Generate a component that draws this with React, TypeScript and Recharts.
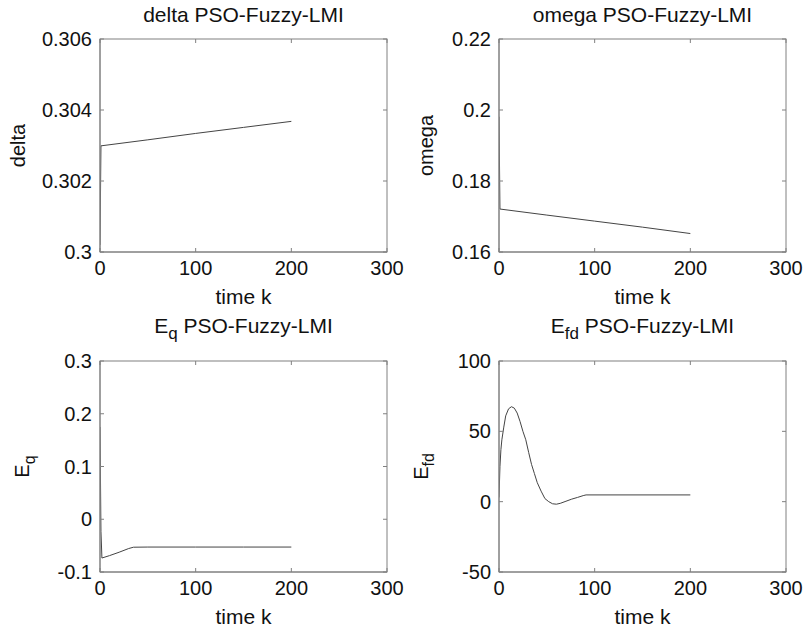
import React from 'react';
import { LineChart, Line, XAxis, YAxis } from 'recharts';

// ---------- data ----------
const X_TICKS = [0, 100, 200, 300];

const deltaK = [0, 1, 50, 100, 150, 200];
const deltaValues = [0.3002, 0.30299, 0.30316, 0.30334, 0.30351, 0.30368];
const deltaTicks = [0.3, 0.302, 0.304, 0.306];

const omegaK = [0, 1, 50, 100, 150, 200];
const omegaValues = [0.1981, 0.1721, 0.1704, 0.1687, 0.167, 0.1652];
const omegaTicks = [0.16, 0.18, 0.2, 0.22];

const eqK = [0, 1, 2, 10, 20, 30, 35, 50, 100, 150, 200];
const eqValues = [0.175, -0.023, -0.0735, -0.0689, -0.0625, -0.0555, -0.053, -0.0527, -0.0527, -0.0527, -0.0527];
const eqTicks = [-0.1, 0, 0.1, 0.2, 0.3];

const efdK = [0, 1, 2, 3, 5, 7, 10, 13, 16, 19, 22, 25, 28, 31, 34, 37, 40, 44, 48, 52, 56, 60, 64, 70, 76, 82, 88, 91, 200];
const efdValues = [3, 25, 37, 44, 53, 61, 66, 67.5, 66.5, 63, 57, 50, 44, 35, 26.5, 20, 13.5, 7.5, 2.2, 0, -1.5, -1.8, -1.2, 0.3, 1.8, 3, 4.3, 4.8, 4.8];
const efdTicks = [-50, 0, 50, 100];

const build = (ks: number[], vs: number[]) => ks.map((k, i) => ({ k, v: vs[i] }));

// ---------- style ----------
const FONT = 'Liberation Sans, Arial, Helvetica, sans-serif';
const FS = 20;
const FS_T = 21;
const TEXT = '#111';
const BOX = '#808080';
const LINE = '#444';
const fmt = (v: number) => String(Number(v.toFixed(6)));

const YW = 60; // left axis width
const XH = 30; // bottom axis height

type Plot = { x: number; y: number; w: number; h: number };

type PanelProps = {
  left: number; top: number; width: number; height: number;
  plot: Plot;
  data: { k: number; v: number }[];
  yTicks: number[];
  title: React.ReactNode;
  titleGap: number;
  ylabel: React.ReactNode;
  ylabelGap: number;
};

function Panel(p: PanelProps) {
  const px = p.plot.x - p.left;
  const py = p.plot.y - p.top;
  const pw = p.plot.w;
  const ph = p.plot.h;
  const margin = {
    left: px - YW,
    top: py,
    right: p.width - (px + pw),
    bottom: p.height - (py + ph) - XH,
  };
  const domain: [number, number] = [p.yTicks[0], p.yTicks[p.yTicks.length - 1]];

  // bottom ticks (also mirrored on the top edge, inward)
  const bottomTick = (t: any) => (
    <g>
      <line x1={t.x} x2={t.x} y1={py + ph} y2={py + ph - 4} stroke={BOX} />
      <line x1={t.x} x2={t.x} y1={py} y2={py + 4} stroke={BOX} />
      <text x={t.x} y={py + ph + 23} textAnchor="middle" fontFamily={FONT} fontSize={FS} fill={TEXT}>
        {fmt(t.payload.value)}
      </text>
    </g>
  );
  // left ticks (also mirrored on the right edge, inward)
  const leftTick = (t: any) => (
    <g>
      <line x1={px} x2={px + 4} y1={t.y} y2={t.y} stroke={BOX} />
      <line x1={px + pw} x2={px + pw - 4} y1={t.y} y2={t.y} stroke={BOX} />
      <text x={px - 8} y={t.y + 7} textAnchor="end" fontFamily={FONT} fontSize={FS} fill={TEXT}>
        {fmt(t.payload.value)}
      </text>
    </g>
  );

  const cx = px + pw / 2;
  const cy = py + ph / 2;
  const lx = px - p.ylabelGap;

  const xLabel = () => (
    <text x={cx} y={py + ph + 52} textAnchor="middle" fontFamily={FONT} fontSize={FS_T} fill={TEXT}>
      time k
    </text>
  );
  const yLabelAndFrame = () => (
    <g>
      <rect x={px} y={py} width={pw} height={ph} fill="none" stroke={BOX} strokeWidth={1} />
      <text x={cx} y={py - p.titleGap} textAnchor="middle" fontFamily={FONT} fontSize={FS_T} fill={TEXT}>
        {p.title}
      </text>
      <text x={lx} y={cy} transform={`rotate(-90, ${lx}, ${cy})`} textAnchor="middle" fontFamily={FONT} fontSize={FS} fill={TEXT}>
        {p.ylabel}
      </text>
    </g>
  );

  return (
    <div style={{ position: 'absolute', left: p.left, top: p.top }}>
      <LineChart width={p.width} height={p.height} data={p.data} margin={margin}>
        <XAxis
          dataKey="k" type="number" domain={[0, 300]} ticks={X_TICKS} interval={0}
          height={XH} tickSize={0} tickMargin={0} tickLine={false}
          axisLine={{ stroke: BOX }} tick={bottomTick} label={xLabel} allowDataOverflow
        />
        <YAxis
          type="number" domain={domain} ticks={p.yTicks} interval={0} width={YW}
          tickSize={0} tickMargin={0} tickLine={false}
          axisLine={{ stroke: BOX }} tick={leftTick} label={yLabelAndFrame} allowDataOverflow
        />
        <Line type="linear" dataKey="v" stroke={LINE} strokeWidth={1} dot={false} isAnimationActive={false} />
      </LineChart>
    </div>
  );
}

export default function App() {
  return (
    <div style={{ position: 'absolute', left: 0, top: 0, width: 805, height: 635, background: '#fff', overflow: 'hidden' }}>
      <Panel
        left={0} top={0} width={420} height={320}
        plot={{ x: 100, y: 39, w: 287, h: 213 }}
        data={build(deltaK, deltaValues)} yTicks={deltaTicks}
        title="delta PSO-Fuzzy-LMI" titleGap={17}
        ylabel="delta" ylabelGap={75}
      />
      <Panel
        left={400} top={0} width={405} height={320}
        plot={{ x: 499, y: 39, w: 287, h: 213 }}
        data={build(omegaK, omegaValues)} yTicks={omegaTicks}
        title="omega PSO-Fuzzy-LMI" titleGap={17}
        ylabel="omega" ylabelGap={66}
      />
      <Panel
        left={0} top={310} width={420} height={325}
        plot={{ x: 100, y: 361, w: 287, h: 211 }}
        data={build(eqK, eqValues)} yTicks={eqTicks}
        title={<><tspan>E</tspan><tspan dy={6} fontSize={17}>q</tspan><tspan dy={-6}> PSO-Fuzzy-LMI</tspan></>}
        titleGap={28}
        ylabel={<><tspan>E</tspan><tspan dy={6} fontSize={16}>q</tspan></>}
        ylabelGap={71}
      />
      <Panel
        left={400} top={310} width={405} height={325}
        plot={{ x: 499, y: 361, w: 287, h: 211 }}
        data={build(efdK, efdValues)} yTicks={efdTicks}
        title={<><tspan>E</tspan><tspan dy={6} fontSize={17}>fd</tspan><tspan dy={-6}> PSO-Fuzzy-LMI</tspan></>}
        titleGap={28}
        ylabel={<><tspan>E</tspan><tspan dy={6} fontSize={16}>fd</tspan></>}
        ylabelGap={71}
      />
    </div>
  );
}
